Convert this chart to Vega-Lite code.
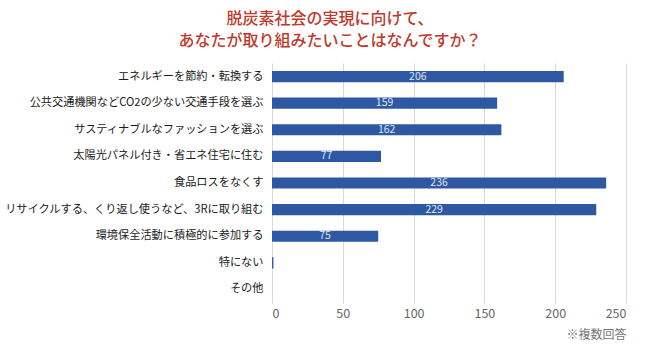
{
  "$schema": "https://vega.github.io/schema/vega-lite/v6.json",
  "width": 354,
  "height": 240,
  "autosize": {"type": "none"},
  "padding": {"left": 272, "top": 63, "right": 24, "bottom": 47},
  "background": "white",
  "title": {
    "text": ["脱炭素社会の実現に向けて、", "あなたが取り組みたいことはなんですか？"],
    "font": "Noto Sans CJK JP",
    "fontSize": 16,
    "fontWeight": 500,
    "color": "#c0392b",
    "anchor": "middle",
    "dx": -119,
    "offset": 14,
    "lineHeight": 22
  },
  "config": {
    "view": {"stroke": null},
    "font": "Noto Sans CJK JP"
  },
  "data": {
    "values": [
      {"item": "エネルギーを節約・転換する", "count": 206},
      {"item": "公共交通機関などCO2の少ない交通手段を選ぶ", "count": 159},
      {"item": "サスティナブルなファッションを選ぶ", "count": 162},
      {"item": "太陽光パネル付き・省エネ住宅に住む", "count": 77},
      {"item": "食品ロスをなくす", "count": 236},
      {"item": "リサイクルする、くり返し使うなど、3Rに取り組む", "count": 229},
      {"item": "環境保全活動に積極的に参加する", "count": 75},
      {"item": "特にない", "count": 1},
      {"item": "その他", "count": 0}
    ]
  },
  "encoding": {
    "y": {
      "field": "item",
      "type": "nominal",
      "sort": null,
      "scale": {"paddingInner": 0.58, "paddingOuter": 0.3},
      "axis": {
        "title": null,
        "ticks": false,
        "domain": false,
        "labelFontSize": 11.2,
        "labelColor": "#1a1a1a",
        "labelPadding": 9,
        "labelLimit": 300
      }
    }
  },
  "resolve": {"scale": {"x": "independent"}},
  "layer": [
    {
      "mark": {"type": "bar", "color": "#2f58a3"},
      "encoding": {
        "x": {
          "field": "count",
          "type": "quantitative",
          "scale": {"domain": [0, 250], "nice": false},
          "axis": {
            "values": [0, 50, 100, 150, 200, 250],
            "grid": true,
            "gridColor": "#d9d9d9",
            "domain": false,
            "ticks": false,
            "labelFontSize": 12.5,
            "labelColor": "#666666",
            "labelPadding": 4,
            "title": "※複数回答",
            "titleAnchor": "end",
            "titleFontSize": 12,
            "titleFontWeight": "normal",
            "titleColor": "#777777",
            "titlePadding": 10
          }
        }
      }
    },
    {
      "transform": [{"filter": "datum.count > 5"}],
      "mark": {"type": "text", "color": "#dde7f7", "fontSize": 10.5, "baseline": "middle", "align": "center"},
      "encoding": {
        "x": {"field": "count", "type": "quantitative", "scale": {"domain": [0, 500], "nice": false}, "axis": null},
        "text": {"field": "count"}
      }
    }
  ]
}
